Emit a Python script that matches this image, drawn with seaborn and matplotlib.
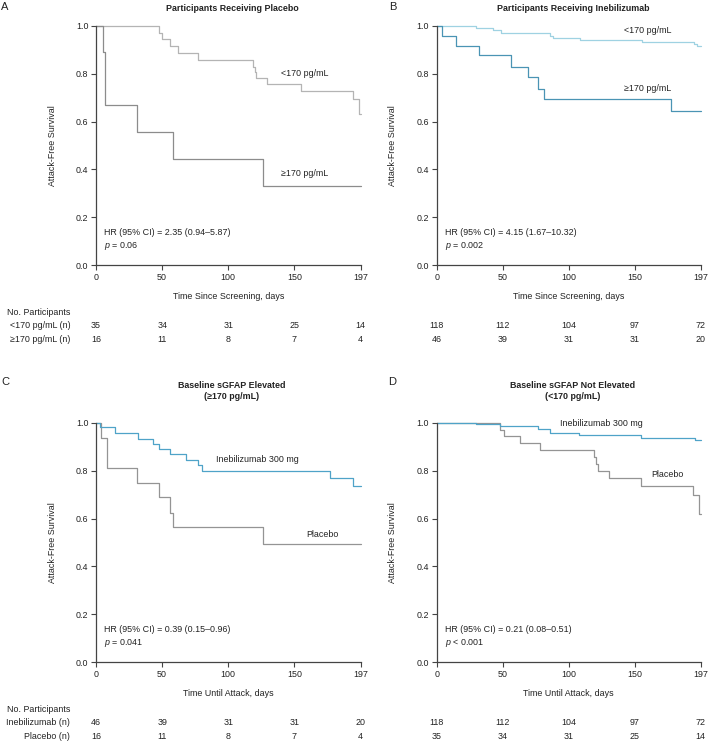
import numpy as np
import pandas as pd
import matplotlib
matplotlib.use("Agg")
import matplotlib.pyplot as plt
import matplotlib.transforms as mtransforms
import seaborn as sns

# ---- data (days, attack-free survival) ----
# Panel A: placebo, split by baseline sGFAP
a_low_t = [0, 48, 50, 56, 62, 77, 119, 120, 121, 129, 155, 194, 199, 200]
a_low_s = [1.0, 0.971, 0.943, 0.914, 0.886, 0.857, 0.829, 0.805, 0.780, 0.755, 0.729, 0.696, 0.630, 0.630]
a_high_t = [0, 5, 7, 31, 58, 126, 200]
a_high_s = [1.0, 0.889, 0.667, 0.556, 0.444, 0.333, 0.333]

# Panel B: inebilizumab, split by baseline sGFAP
b_low_t = [0, 30, 43, 49, 86, 88, 109, 156, 195, 197, 200]
b_low_s = [1.0, 0.992, 0.983, 0.968, 0.958, 0.950, 0.941, 0.932, 0.923, 0.914, 0.914]
b_high_t = [0, 4, 15, 32, 56, 69, 77, 81, 178, 200]
b_high_s = [1.0, 0.958, 0.917, 0.878, 0.829, 0.785, 0.735, 0.693, 0.644, 0.644]

# Panel C: sGFAP elevated, treatment vs placebo
c_ineb_t = [0, 3, 14, 32, 43, 48, 56, 68, 77, 80, 177, 194, 200]
c_ineb_s = [1.0, 0.984, 0.956, 0.934, 0.913, 0.890, 0.868, 0.845, 0.822, 0.798, 0.770, 0.735, 0.735]
c_plac_t = [0, 4, 8, 31, 48, 56, 58, 126, 200]
c_plac_s = [1.0, 0.938, 0.813, 0.750, 0.688, 0.625, 0.563, 0.492, 0.492]

# Panel D: sGFAP not elevated, treatment vs placebo
d_ineb_t = [0, 30, 48, 77, 86, 108, 155, 196, 200]
d_ineb_s = [1.0, 0.993, 0.986, 0.975, 0.957, 0.947, 0.936, 0.928, 0.928]
d_plac_t = [0, 48, 51, 63, 78, 119, 121, 122, 131, 155, 194, 199, 200]
d_plac_s = [1.0, 0.971, 0.943, 0.914, 0.886, 0.857, 0.829, 0.800, 0.768, 0.736, 0.700, 0.620, 0.620]

# numbers at risk
risk_days = [0, 50, 100, 150, 200]
tick_labels = ["0", "50", "100", "150", "197"]
a_risk = [[35, 34, 31, 25, 14], [16, 11, 8, 7, 4]]
b_risk = [[118, 112, 104, 97, 72], [46, 39, 31, 31, 20]]
c_risk = [[46, 39, 31, 31, 20], [16, 11, 8, 7, 4]]
d_risk = [[118, 112, 104, 97, 72], [35, 34, 31, 25, 14]]

sns.set_style("ticks")
plt.rcParams["font.family"] = ["Liberation Sans", "DejaVu Sans"]
plt.rcParams["mathtext.fontset"] = "custom"
plt.rcParams["mathtext.rm"] = "Liberation Sans"
plt.rcParams["mathtext.it"] = "Liberation Sans:italic"

TXT = "#222222"
FS = 6.4

W, H = 709, 742
fig = plt.figure(figsize=(W / 100, H / 100), dpi=100)


def px_rect(x0, y_top, w, h):
    return [x0 / W, (H - y_top - h) / H, w / W, h / H]


def km_panel(ax, curves, labels, hr, pval, xlabel, risk, risk_names):
    for t, s, color in curves:
        df = pd.DataFrame({"day": t, "surv": s})
        sns.lineplot(data=df, x="day", y="surv", ax=ax, color=color,
                     drawstyle="steps-post", estimator=None, sort=False,
                     linewidth=0.9, clip_on=False)
    ax.set_xlim(0, 200)
    ax.set_ylim(0, 1.0)
    ax.set_xticks(risk_days)
    ax.set_xticklabels(tick_labels)
    ax.set_yticks(np.arange(0, 1.01, 0.2))
    ax.set_yticklabels([f"{v:.1f}" for v in np.arange(0, 1.01, 0.2)])
    ax.set_xlabel("")
    ax.set_ylabel("")
    ax.tick_params(axis="both", labelsize=FS, labelcolor=TXT, color="#444444",
                   length=3.5, width=0.8, pad=2)
    for sp in ["left", "bottom"]:
        ax.spines[sp].set_color("#444444")
        ax.spines[sp].set_linewidth(0.9)
    sns.despine(ax=ax)

    for x, y, text in labels:
        ax.text(x, y, text, fontsize=FS, color=TXT, ha="left", va="center")
    ax.text(0.032, 0.135, hr, transform=ax.transAxes, fontsize=FS,
            color=TXT, ha="left", va="center")
    ax.text(0.032, 0.082, pval, transform=ax.transAxes, fontsize=FS,
            color=TXT, ha="left", va="center")

    ax.text(0.5, -0.132, xlabel, transform=ax.transAxes, fontsize=FS,
            color=TXT, ha="center", va="center")
    ax.text(-0.166, 0.5, "Attack-Free Survival", transform=ax.transAxes,
            fontsize=FS, color=TXT, ha="center", va="center", rotation=90)

    tr = mtransforms.blended_transform_factory(ax.transData, ax.transAxes)
    for row, ypos in zip(risk, [-0.253, -0.308]):
        for d, n in zip(risk_days, row):
            ax.text(d, ypos, str(n), transform=tr, fontsize=FS, color=TXT,
                    ha="center", va="center")
    if risk_names:
        for name, ypos in zip(risk_names, [-0.199, -0.253, -0.308]):
            ax.text(-0.097, ypos, name, transform=ax.transAxes, fontsize=FS,
                    color=TXT, ha="right", va="center")


GREY_LIGHT = "#b4b4b4"
GREY_DARK = "#8c8c8c"
BLUE_LIGHT = "#9fd2e2"
BLUE_DARK = "#4a94b4"
BLUE = "#4fa3c8"
GREY = "#949494"

axA = fig.add_axes(px_rect(96, 25.7, 264.5, 239.6))
km_panel(axA,
         [(a_low_t, a_low_s, GREY_LIGHT), (a_high_t, a_high_s, GREY_DARK)],
         [(140, 0.80, "<170 pg/mL"), (140, 0.384, "≥170 pg/mL")],
         "HR (95% CI) = 2.35 (0.94–5.87)", "$p$ = 0.06",
         "Time Since Screening, days", a_risk,
         ["No. Participants", "<170 pg/mL (n)", "≥170 pg/mL (n)"])

axB = fig.add_axes(px_rect(436.7, 25.7, 263.8, 239.6))
km_panel(axB,
         [(b_low_t, b_low_s, BLUE_LIGHT), (b_high_t, b_high_s, BLUE_DARK)],
         [(142, 0.982, "<170 pg/mL"), (142, 0.739, "≥170 pg/mL")],
         "HR (95% CI) = 4.15 (1.67–10.32)", "$p$ = 0.002",
         "Time Since Screening, days", b_risk, None)

axC = fig.add_axes(px_rect(96, 422.7, 264.5, 239.6))
km_panel(axC,
         [(c_plac_t, c_plac_s, GREY), (c_ineb_t, c_ineb_s, BLUE)],
         [(91, 0.847, "Inebilizumab 300 mg"), (159, 0.535, "Placebo")],
         "HR (95% CI) = 0.39 (0.15–0.96)", "$p$ = 0.041",
         "Time Until Attack, days", c_risk,
         ["No. Participants", "Inebilizumab (n)", "Placebo (n)"])

axD = fig.add_axes(px_rect(436.7, 422.7, 263.8, 239.6))
km_panel(axD,
         [(d_plac_t, d_plac_s, GREY), (d_ineb_t, d_ineb_s, BLUE)],
         [(93.5, 0.997, "Inebilizumab 300 mg"), (162.5, 0.782, "Placebo")],
         "HR (95% CI) = 0.21 (0.08–0.51)", "$p$ < 0.001",
         "Time Until Attack, days", d_risk, None)

# titles and panel letters
fig.text(232 / W, 1 - 8.5 / H, "Participants Receiving Placebo", fontsize=FS,
         fontweight="bold", color=TXT, ha="center", va="center")
fig.text(573 / W, 1 - 8.5 / H, "Participants Receiving Inebilizumab", fontsize=FS,
         fontweight="bold", color=TXT, ha="center", va="center")
fig.text(232 / W, 1 - 391 / H, "Baseline sGFAP Elevated\n(≥170 pg/mL)",
         fontsize=FS, fontweight="bold", color=TXT, ha="center", va="center",
         linespacing=1.25)
fig.text(573 / W, 1 - 391 / H, "Baseline sGFAP Not Elevated\n(<170 pg/mL)",
         fontsize=FS, fontweight="bold", color=TXT, ha="center", va="center",
         linespacing=1.25)
for letter, x, y in [("A", 5, 7), ("B", 393, 7), ("C", 5, 382), ("D", 392, 382)]:
    fig.text(x / W, 1 - y / H, letter, fontsize=8, color=TXT,
             ha="center", va="center")

fig.savefig("out.png", dpi=100)
